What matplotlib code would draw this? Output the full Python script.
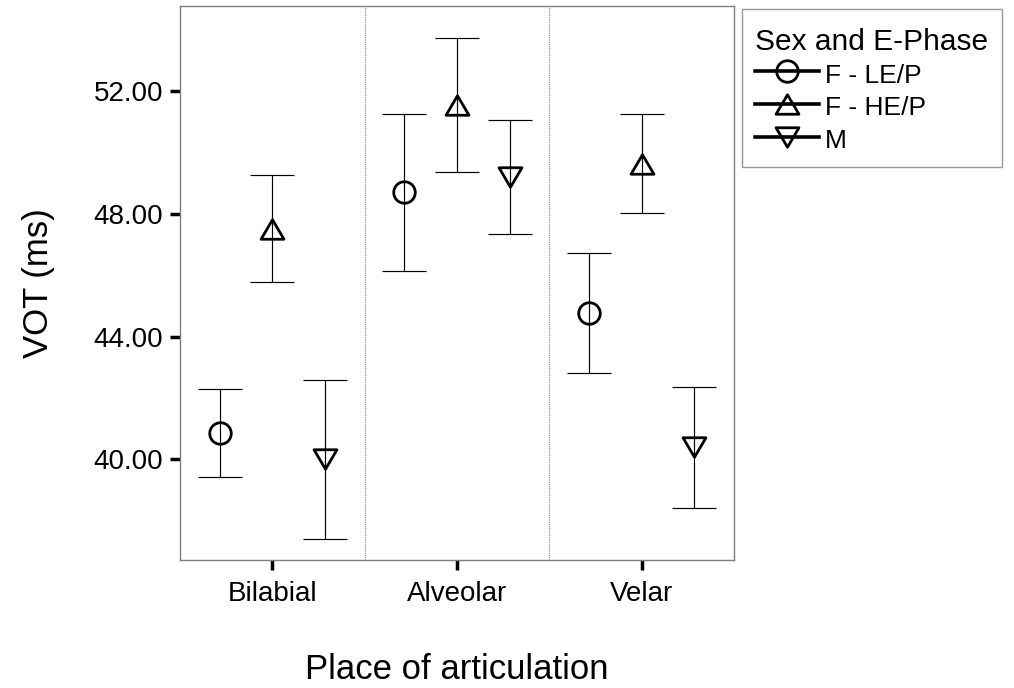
import numpy as np
import matplotlib
matplotlib.use("Agg")
import matplotlib.pyplot as plt
from matplotlib.lines import Line2D
from matplotlib.path import Path
from matplotlib.offsetbox import DrawingArea

plt.rcParams['font.family'] = ['Liberation Sans', 'DejaVu Sans']

# -----------------------------
# Data
# -----------------------------
places = ["Bilabial", "Alveolar", "Velar"]
groups = ["F - LE/P", "F - HE/P", "M"]

mean_f_le = [40.85, 48.70, 44.76]
low_f_le = [39.42, 46.15, 42.80]
high_f_le = [42.28, 51.26, 46.71]

mean_f_he = [47.52, 51.53, 49.63]
low_f_he = [45.79, 49.35, 48.01]
high_f_he = [49.26, 53.72, 51.25]

mean_m = [40.00, 49.20, 40.39]
low_m = [37.42, 47.34, 38.43]
high_m = [42.59, 51.06, 42.35]

yticks = [40, 44, 48, 52]

# -----------------------------
# Markers
# -----------------------------
tri_up = Path([(0, 0.85), (-1, -0.85), (1, -0.85), (0, 0.85)],
              [Path.MOVETO, Path.LINETO, Path.LINETO, Path.CLOSEPOLY])
tri_down = Path([(0, -0.85), (-1, 0.85), (1, 0.85), (0, -0.85)],
                [Path.MOVETO, Path.LINETO, Path.LINETO, Path.CLOSEPOLY])

series = [
    (mean_f_le, low_f_le, high_f_le, 'o', 15.5),
    (mean_f_he, low_f_he, high_f_he, tri_up, 16.5),
    (mean_m, low_m, high_m, tri_down, 16.5),
]
offsets = [-0.285, 0.0, 0.285]

fig = plt.figure(figsize=(10.14, 6.88), dpi=100)
ax = fig.add_axes([180 / 1014, 1 - 560 / 688, 554 / 1014, 554 / 688])

x = np.arange(len(places))
for (m, lo, hi, mk, ms), off in zip(series, offsets):
    m = np.array(m)
    lo = np.array(lo)
    hi = np.array(hi)
    ax.errorbar(x + off, m, yerr=[m - lo, hi - m], fmt='none', ecolor='black',
                elinewidth=0.85, capsize=15.8, capthick=0.85, zorder=2)
    ax.plot(x + off, m, ls='none', marker=mk, ms=ms, mfc='none', mec='black',
            mew=2.0, zorder=3)

for xv in [0.5, 1.5]:
    ax.axvline(xv, color='#808080', ls=(0, (1, 1)), lw=0.8, zorder=1)

ax.set_xlim(-0.5, 2.5)
ax.set_ylim(36.72, 54.77)
ax.set_xticks(x)
ax.set_xticklabels(places)
ax.set_yticks(yticks)
ax.set_yticklabels([f"{v:.2f}" for v in yticks])

for sp in ax.spines.values():
    sp.set_color('#7f7f7f')
    sp.set_linewidth(1.0)

ax.tick_params(axis='both', direction='out', length=7.5, width=2.5,
               color='black', labelsize=20)
ax.tick_params(axis='x', pad=7.5)
ax.tick_params(axis='y', pad=4.5)

ax.set_xlabel("Place of articulation", fontsize=25, labelpad=33)
ax.set_ylabel("VOT (ms)", fontsize=25, labelpad=28)

# -----------------------------
# Legend
# -----------------------------
handles = [Line2D([], [], color='black', lw=2.6, marker=s[3], ms=s[4],
                  mfc='none', mec='black', mew=2.0) for s in series]
leg = fig.legend(handles, groups, title="Sex and E-Phase",
                 loc='upper left', bbox_to_anchor=(742 / 1014, 1 - 9 / 688),
                 frameon=True, fancybox=False, edgecolor='#7f7f7f',
                 fontsize=19, title_fontsize=21.5, handlelength=2.4,
                 handleheight=1.3, handletextpad=0.25, labelspacing=0.15,
                 borderpad=0.5, borderaxespad=0, alignment='left')
leg.get_frame().set_linewidth(1.0)
# a little extra room above the title, as in the original
leg._legend_box.get_children().insert(0, DrawingArea(1, 1))

fig.savefig("out.png", dpi=100)
